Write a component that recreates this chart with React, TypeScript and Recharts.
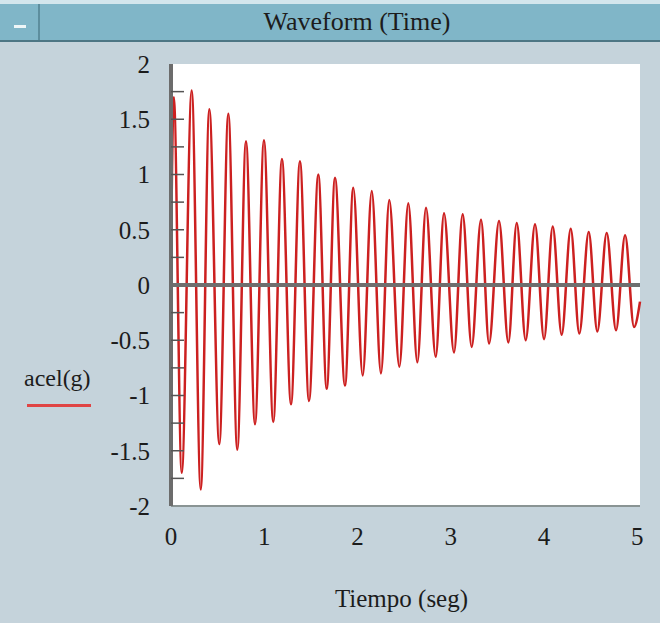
import React from "react";
import {
  LineChart,
  Line,
  XAxis,
  YAxis,
  CartesianGrid,
  ReferenceLine,
} from "recharts";

// peaks / troughs (seconds, g)
const times = [
  0, 0.03, 0.115, 0.222, 0.319, 0.411, 0.518, 0.615, 0.711, 0.804, 0.901,
  0.997, 1.097, 1.19, 1.287, 1.383, 1.48, 1.58, 1.67, 1.759, 1.866, 1.955,
  2.056, 2.153, 2.252, 2.341, 2.449, 2.545, 2.642, 2.735, 2.839, 2.928, 3.035,
  3.128, 3.225, 3.325, 3.411, 3.518, 3.618, 3.708, 3.804, 3.904, 4.001, 4.094,
  4.19, 4.287, 4.379, 4.48, 4.572, 4.673, 4.773, 4.87, 4.966, 5.03,
];
const accel = [
  0.3, 1.7, -1.7, 1.76, -1.85, 1.59, -1.44, 1.55, -1.49, 1.3, -1.26, 1.31,
  -1.24, 1.14, -1.08, 1.12, -1.05, 1.0, -0.94, 0.97, -0.91, 0.88, -0.82, 0.85,
  -0.8, 0.77, -0.74, 0.74, -0.7, 0.7, -0.65, 0.65, -0.61, 0.64, -0.56, 0.59,
  -0.53, 0.58, -0.52, 0.56, -0.5, 0.55, -0.49, 0.53, -0.45, 0.51, -0.44, 0.48,
  -0.42, 0.47, -0.41, 0.45, -0.38, -0.15,
];
const xTicks = [0, 1, 2, 3, 4, 5];
// labelled every 0.5, small inner marks every 0.25
const yTicks = [
  -2, -1.75, -1.5, -1.25, -1, -0.75, -0.5, -0.25, 0, 0.25, 0.5, 0.75, 1, 1.25,
  1.5, 1.75, 2,
];
const seriesName = "acel(g)";

const data = times.map((t, i) => ({ t, acel: accel[i] }));

const FONT = "'Liberation Serif', 'Times New Roman', serif";
const TEXT = "#1c1c1c";
const FRAME = "#8a9494";
const RED = "#cc2020";
const TICK_GAP = 21;

const YTick = (props: any) => {
  const { x, y, payload } = props;
  const v = payload.value;
  const labelled = Math.abs(v * 2 - Math.round(v * 2)) < 1e-6;
  const inner = Math.abs(v) > 0.01 && Math.abs(v) < 1.99;
  return (
    <g>
      {inner && (
        <line
          x1={x + TICK_GAP}
          x2={x + TICK_GAP + 13}
          y1={y}
          y2={y}
          stroke="#555555"
          strokeWidth={1.5}
        />
      )}
      {labelled && (
        <text
          x={x}
          y={y}
          dy="0.355em"
          textAnchor="end"
          fill={TEXT}
          fontSize={25}
          fontFamily={FONT}
        >
          {v}
        </text>
      )}
    </g>
  );
};

export default function App() {
  return (
    <div
      style={{
        position: "absolute",
        left: 0,
        top: 0,
        width: 660,
        height: 623,
        background: "#c5d3db",
        overflow: "hidden",
      }}
    >
      <LineChart
        width={660}
        height={623}
        data={data}
        margin={{ top: 64, right: 20, left: 0, bottom: 0 }}
      >
        <CartesianGrid fill="#ffffff" horizontal={false} vertical={false} />
        <XAxis
          dataKey="t"
          type="number"
          domain={[0, 5.03]}
          ticks={xTicks}
          interval={0}
          height={117}
          tickSize={0}
          tickMargin={21}
          axisLine={{ stroke: FRAME, strokeWidth: 2 }}
          tick={{ fill: TEXT, fontSize: 25, fontFamily: FONT }}
          label={{
            value: "Tiempo (seg)",
            position: "insideBottom",
            offset: 16,
            dx: -4,
            fill: TEXT,
            fontSize: 25,
            fontFamily: FONT,
          }}
        />
        <XAxis
          xAxisId="top"
          orientation="top"
          type="number"
          domain={[0, 5.03]}
          height={0}
          tick={false}
          tickLine={false}
          axisLine={{ stroke: FRAME, strokeWidth: 2 }}
        />
        <YAxis
          type="number"
          domain={[-2, 2]}
          ticks={yTicks}
          interval={0}
          width={171}
          tickSize={0}
          tickMargin={TICK_GAP}
          axisLine={{ stroke: "#6c6c6c", strokeWidth: 4 }}
          tick={<YTick />}
        />
        <YAxis
          yAxisId="right"
          orientation="right"
          type="number"
          domain={[-2, 2]}
          width={0}
          tick={false}
          tickLine={false}
          axisLine={{ stroke: FRAME, strokeWidth: 2 }}
        />
        <Line
          type="monotone"
          dataKey="acel"
          name={seriesName}
          stroke={RED}
          strokeWidth={2.5}
          dot={false}
          activeDot={false}
          isAnimationActive={false}
        />
        <ReferenceLine y={0} stroke="#6e6e6e" strokeWidth={4} />
      </LineChart>

      {/* legend */}
      <div
        style={{
          position: "absolute",
          left: 0,
          top: 364,
          width: 120,
          fontFamily: FONT,
          fontSize: 24,
          color: TEXT,
        }}
      >
        <div style={{ paddingLeft: 24, lineHeight: "28px" }}>{seriesName}</div>
        <div
          style={{
            marginLeft: 27,
            marginTop: 12,
            width: 64,
            height: 3,
            background: "#e04444",
          }}
        />
      </div>

      {/* title bar */}
      <div
        style={{
          position: "absolute",
          left: 0,
          top: 0,
          width: 660,
          height: 4,
          background: "#d3e6ed",
        }}
      />
      <div
        style={{
          position: "absolute",
          left: 0,
          top: 4,
          width: 660,
          height: 36,
          background: "#80b6c8",
          borderBottom: "2px solid #4d7684",
        }}
      >
        <div
          style={{
            position: "absolute",
            left: 8,
            top: 0,
            width: 30,
            height: 36,
            borderRight: "2px solid #5d8e9e",
          }}
        >
          <div
            style={{
              position: "absolute",
              left: 6,
              top: 21,
              width: 12,
              height: 3,
              background: "#eef6f8",
            }}
          />
        </div>
        <div
          style={{
            position: "absolute",
            left: 54,
            right: 0,
            top: 0,
            height: 36,
            lineHeight: "36px",
            textAlign: "center",
            fontFamily: FONT,
            fontSize: 26,
            color: TEXT,
          }}
        >
          Waveform (Time)
        </div>
      </div>
    </div>
  );
}
